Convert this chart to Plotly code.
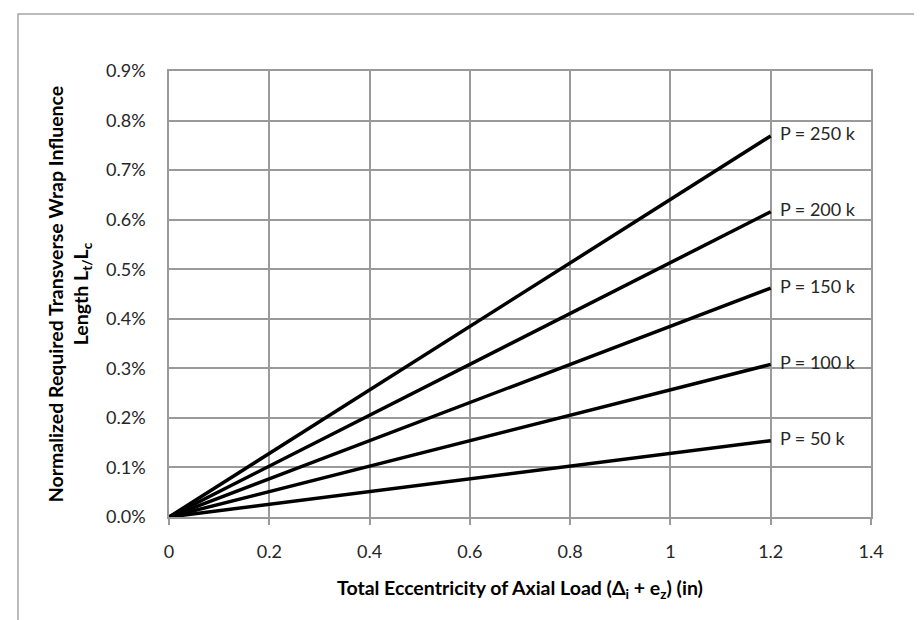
import plotly.graph_objects as go

# Data
ecc = [0, 1.2]  # Total eccentricity (in)
loads = ["P = 50 k", "P = 100 k", "P = 150 k", "P = 200 k", "P = 250 k"]
ratio_50 = [0.0, 0.00154]
ratio_100 = [0.0, 0.00308]
ratio_150 = [0.0, 0.00462]
ratio_200 = [0.0, 0.00616]
ratio_250 = [0.0, 0.00769]
series = [ratio_50, ratio_100, ratio_150, ratio_200, ratio_250]

x_ticks = [0, 0.2, 0.4, 0.6, 0.8, 1.0, 1.2, 1.4]
x_ticktext = ["0", "0.2", "0.4", "0.6", "0.8", "1", "1.2", "1.4"]
y_ticks = [0.000, 0.001, 0.002, 0.003, 0.004, 0.005, 0.006, 0.007, 0.008, 0.009]

FONT = "Lato"
GRID = "#9a9a9a"

fig = go.Figure()
for name, vals in zip(loads, series):
    fig.add_trace(go.Scatter(
        x=ecc, y=vals, mode="lines+text", name=name,
        text=["", "  " + name], textposition="middle right",
        textfont=dict(family=FONT, size=18, color="#262626"),
        line=dict(color="black", width=3.5),
        cliponaxis=False, showlegend=False,
    ))

# plot area pixel geometry
L, R, T, B = 161, 59, 63, 111
W, H = 922, 620
pw, ph = W - L - R, H - T - B

def px(x):
    return (x - L) / pw

def py(y):
    return (H - B - y) / ph

fig.add_shape(type="rect", xref="paper", yref="paper",
              x0=px(10), x1=px(921), y0=py(6), y1=py(640),
              line=dict(color="#a6a6a6", width=1.5), fillcolor="rgba(0,0,0,0)", layer="below")

fig.update_layout(
    width=W, height=H,
    margin=dict(l=L, r=R, t=T, b=B),
    paper_bgcolor="white", plot_bgcolor="white",
    font=dict(family=FONT, size=18, color="#262626"),
    xaxis=dict(
        range=[0, 1.4], tickvals=x_ticks, ticktext=x_ticktext,
        showgrid=True, gridcolor=GRID, gridwidth=1.5,
        showline=True, linecolor=GRID, linewidth=1.5, mirror=True,
        ticks="outside", ticklen=6, tickcolor=GRID, tickwidth=1.5,
        zeroline=False, ticklabelstandoff=12,
        title=dict(text="<b>Total Eccentricity of Axial Load (Δ<sub>i</sub> + e<sub>z</sub>) (in)</b>",
                   font=dict(family=FONT, size=19.5, color="black"), standoff=20),
    ),
    yaxis=dict(
        range=[0, 0.009], tickvals=y_ticks, tickformat=".1%",
        showgrid=True, gridcolor=GRID, gridwidth=1.5,
        showline=True, linecolor=GRID, linewidth=1.5, mirror=True,
        ticks="", zeroline=False, ticklabelstandoff=18,
        title=dict(text="<b>Normalized Required Transverse Wrap Influence<br>Length L<sub>t/</sub>L<sub>c</sub></b>",
                   font=dict(family=FONT, size=19.5, color="black"), standoff=12),
    ),
)

fig.write_html("out.html")
